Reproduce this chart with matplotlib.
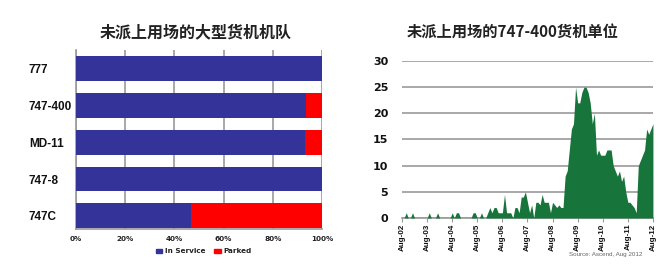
import matplotlib
matplotlib.use("Agg")
import matplotlib.pyplot as plt
from matplotlib.patches import Patch

# Datos: flota de cargueros grandes (proporción en servicio / aparcados)
tipos = ["747C", "747-8", "MD-11", "747-400", "777"]
en_servicio = [0.466, 1.0, 0.93, 0.935, 1.0]
aparcados = [0.534, 0.0, 0.07, 0.065, 0.0]
ticks_pct = [0, 0.2, 0.4, 0.6, 0.8, 1.0]
ticks_pct_labels = ["0%", "20%", "40%", "60%", "80%", "100%"]

# Datos: 747-400 cargueros aparcados, mensual Aug-02 .. Aug-12
aparcados_747 = [
    0, 0, 1, 0, 0, 1, 0, 0, 0, 0, 0, 0,
    0, 1, 0, 0, 0, 1, 0, 0, 0, 0, 0, 0,
    1, 0, 1, 1, 0, 0, 0, 0, 0, 0, 1, 1,
    0, 0, 1, 0, 0, 1, 2, 1, 2, 2, 1, 1,
    1, 4.5, 1, 1, 1, 0, 2, 2, 1, 4, 4, 5,
    3, 1, 2.5, 0, 3, 3, 2.5, 4.5, 3, 3, 3, 1,
    3, 2.5, 2, 2.5, 2, 2, 8, 9, 13, 17, 18, 25,
    22, 22, 24, 25, 25, 24, 22, 18, 20, 12, 13, 12,
    12, 12, 13, 13, 13, 10, 9, 8, 9, 7, 8, 5,
    3, 3, 2.5, 2, 1, 10, 11, 12, 13, 17, 16, 17,
    18,
]
meses_ticks = [0, 12, 24, 36, 48, 60, 72, 84, 96, 108, 120]
meses_labels = ["Aug-02", "Aug-03", "Aug-04", "Aug-05", "Aug-06", "Aug-07",
                "Aug-08", "Aug-09", "Aug-10", "Aug-11", "Aug-12"]
y_ticks = [0, 5, 10, 15, 20, 25, 30]

AZUL = "#333399"
ROJO = "#ff0000"
VERDE = "#17743a"
GRIS = "#9a9a9a"
CJK = ["Noto Sans CJK SC", "DejaVu Sans"]
NARROW = ["Liberation Sans Narrow", "Liberation Sans"]

fig = plt.figure(figsize=(6.62, 2.71), dpi=100)
fig.patch.set_facecolor("white")

# ---- Gráfico 1: barras horizontales apiladas
ax1 = fig.add_axes([0.1148, 0.155, 0.3716, 0.6605])
y = list(range(len(tipos)))
ax1.barh(y, en_servicio, height=0.67, color=AZUL, zorder=3)
ax1.barh(y, aparcados, left=en_servicio, height=0.67, color=ROJO, zorder=3)
ax1.set_xlim(0, 1)
ax1.set_ylim(-0.36, 4.51)
ax1.set_xticks(ticks_pct)
ax1.set_xticklabels(ticks_pct_labels, fontsize=5.2, fontweight="bold",
                    family="DejaVu Sans", color="#222222")
ax1.set_yticks(y)
ax1.set_yticklabels(tipos, fontsize=8.5, fontweight="bold",
                    family="Liberation Sans", color="#111111")
for lbl in ax1.get_yticklabels():
    lbl.set_horizontalalignment("left")
ax1.tick_params(axis="y", length=0, pad=34)
ax1.tick_params(axis="x", length=0, pad=5)
ax1.grid(axis="x", color=GRIS, lw=1.2, zorder=0)
for s in ["top", "right"]:
    ax1.spines[s].set_visible(False)
for s in ["left", "bottom"]:
    ax1.spines[s].set_color(GRIS)
    ax1.spines[s].set_linewidth(1.2)

fig.text(0.296, 0.88, "未派上用场的大型货机机队", family=CJK, fontsize=11.5,
         fontweight="bold", ha="center", va="center", color="#222222")

fig.legend(handles=[Patch(color=AZUL, label="In Service"),
                    Patch(color=ROJO, label="Parked")],
           loc="center", bbox_to_anchor=(0.308, 0.072), ncol=2, frameon=False,
           prop={"family": "DejaVu Sans", "weight": "bold", "size": 5.2},
           handlelength=0.9, handleheight=0.6, columnspacing=1.2,
           handletextpad=0.4, labelcolor="#222222",
           borderpad=0.1, borderaxespad=0)

# ---- Gráfico 2: área de 747-400 aparcados
ax2 = fig.add_axes([0.6073, 0.1956, 0.379, 0.5793])
meses = list(range(len(aparcados_747)))
ax2.fill_between(meses, aparcados_747, 0, color=VERDE, lw=0, zorder=3)
ax2.set_xlim(0, 120)
ax2.set_ylim(0, 30)
ax2.set_yticks(y_ticks)
ax2.set_yticklabels([str(v) for v in y_ticks], fontsize=8, fontweight="bold",
                    family="DejaVu Sans", color="#111111")
ax2.set_xticks(meses_ticks)
ax2.set_xticklabels(meses_labels, rotation=90, fontsize=5.8, fontweight="bold",
                    family=NARROW, color="#111111")
ax2.tick_params(axis="y", length=0, pad=10)
ax2.tick_params(axis="x", length=3, color=GRIS, pad=1)
ax2.grid(axis="y", color=GRIS, lw=1.2, zorder=0)
for s in ["top", "right", "left"]:
    ax2.spines[s].set_visible(False)
ax2.spines["bottom"].set_color(GRIS)
ax2.spines["bottom"].set_linewidth(1.2)

fig.text(0.775, 0.88, "未派上用场的747-400货机单位", family=CJK, fontsize=11,
         fontweight="bold", ha="center", va="center", color="#222222")
fig.text(0.97, 0.062, "Source: Ascend, Aug 2012", fontsize=4.5,
         family="Liberation Sans", color="#666666", ha="right", va="center")

fig.savefig("out.png", dpi=100, facecolor="white")
